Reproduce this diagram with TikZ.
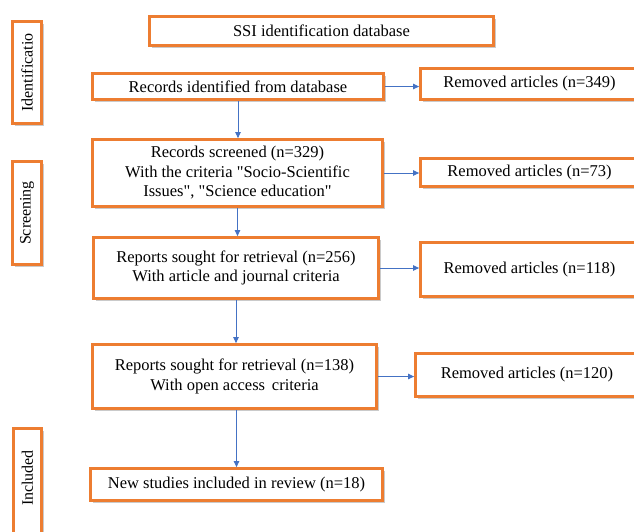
\documentclass[tikz,border=0pt]{standalone}
\usepackage{fontspec}
\setmainfont{Liberation Serif}
\usetikzlibrary{shadows,arrows.meta}
\definecolor{boxorange}{RGB}{237,125,49}
\definecolor{arrowblue}{RGB}{68,114,196}
\tikzset{
  obox/.style={draw=boxorange, line width=2.8pt, fill=white, inner sep=0pt,
    align=center, font=\fontsize{16.5}{19.5}\selectfont,
    drop shadow={shadow xshift=2pt, shadow yshift=-2pt, opacity=0.35, fill=black!60}},
  sidebox/.style={obox},
  flow/.style={draw=arrowblue, line width=0.9pt, -{Triangle[length=6pt,width=5.5pt]}}
}
\begin{document}
\begin{tikzpicture}[x=1pt,y=-1pt]
\useasboundingbox (0,0) rectangle (634,531);
\clip (0,0) rectangle (634,531);
% side labels
\node[sidebox, minimum width=29pt, minimum height=102pt] (sid) at (27,72.5) {};
\node[rotate=90, font=\fontsize{16}{19}\selectfont] (sidt) at (sid.center) {Identificatio};
\node[sidebox, minimum width=29pt, minimum height=103pt] (sscr) at (27,213) {};
\node[rotate=90, font=\fontsize{16}{19}\selectfont] (sscrt) at (sscr.center) {Screening};
\node[sidebox, minimum width=28pt, minimum height=110pt] (sinc) at (27.5,483.5) {};
\node[rotate=90, font=\fontsize{16}{19}\selectfont] (sinct) at (27.5,478) {Included};
% main column
\node[obox, minimum width=344pt, minimum height=29pt] (ssi) at (321.5,31) {SSI identification database};
\node[obox, minimum width=291pt, minimum height=26pt] (rid) at (238,86.5) {Records identified from database};
\node[obox, minimum width=290pt, minimum height=67pt] (scr) at (237.5,173) {Records screened (n=329)\\With the criteria \textquotedbl Socio-Scientific\\Issues\textquotedbl, \textquotedbl Science education\textquotedbl};
\node[obox, minimum width=285pt, minimum height=61pt] (rep1) at (236,268) {Reports sought for retrieval (n=256)\\With article and journal criteria};
\node[obox, minimum width=284pt, minimum height=64pt] (rep2) at (234.5,376.5) {Reports sought for retrieval (n=138)\\With open access\ \,criteria};
\node[obox, minimum width=292pt, minimum height=32pt] (new) at (236.5,484.5) {New studies included in review (n=18)};
% removed column
\node[obox, minimum width=218pt, minimum height=31pt] (rem1) at (529.5,84) {Removed articles (n=349)};
\node[obox, minimum width=218pt, minimum height=28pt] (rem2) at (529.5,172.5) {Removed articles (n=73)};
\node[obox, minimum width=218pt, minimum height=54pt] (rem3) at (529.5,269.5) {Removed articles (n=118)};
\node[obox, minimum width=223pt, minimum height=43pt] (rem4) at (527,375) {Removed articles (n=120)};
% vertical arrows
\draw[flow] (rid.south) -- (rid.south |- scr.north);
\draw[flow] (scr.south) -- (scr.south |- rep1.north);
\draw[flow] (rep1.south) -- (rep1.south |- rep2.north);
\draw[flow] (new.north |- rep2.south) -- (new.north);
% horizontal arrows
\draw[flow] (rid.east) -- (rid.east -| rem1.west);
\draw[flow] (scr.east) -- (scr.east -| rem2.west);
\draw[flow] (rep1.east) -- (rep1.east -| rem3.west);
\draw[flow] (rep2.east) -- (rep2.east -| rem4.west);
\end{tikzpicture}
\end{document}
